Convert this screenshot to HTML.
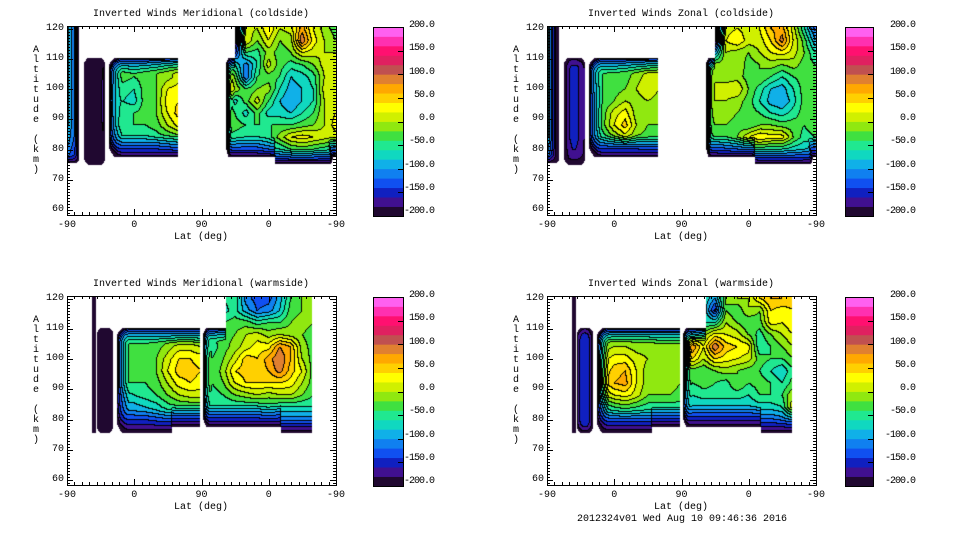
<!DOCTYPE html>
<html><head><meta charset="utf-8"><style>
html,body{margin:0;padding:0;background:#fff;}
#root{position:relative;width:960px;height:540px;overflow:hidden;font-family:"Liberation Mono","DejaVu Sans Mono",monospace;font-size:10px;color:#000;}
.t{position:absolute;white-space:pre;line-height:10px;}
.cb{letter-spacing:-1px;}
canvas{position:absolute;}
svg{position:absolute;left:0;top:0;}
</style></head><body>
<div id="root"></div>
<script>
// ---- data ----
const altRows = [120,116,112,108,104,100,96,92,88,84,80,76];
const latStep = 15; // columns u = 0..360 step 15
const xTickLabels = ["-90","0","90","0","-90"];
const yTickLabels = ["60","70","80","90","100","110","120"];
const cbarLabels = ["200.0","150.0","100.0","50.0","0.0","-50.0","-100.0","-150.0","-200.0"];
const titles = ["Inverted Winds Meridional (coldside)","Inverted Winds Zonal (coldside)","Inverted Winds Meridional (warmside)","Inverted Winds Zonal (warmside)"];
const bandColors = ["#200830","#401090","#1020c0","#1050f0","#1080f0","#10b0e8","#10d8c0","#20e890","#40e040","#90e810","#d0f000","#ffff00","#ffd000","#ffa800","#e08030","#c05050","#e02060","#ff1070","#ff30b0","#ff60f0"];

const merCold = [
[-70,-140,-190,-190,-50,-40,-50,-40,-20,0,10,-60,-60,-60,-200,-200,10,0,40,0,10,70,20,-10,-30],
[-70,-140,-190,-190,-50,-40,-50,-40,-20,0,10,-60,-60,-60,-200,-200,20,-20,20,-20,-10,100,30,0,-20],
[-70,-140,-190,-190,-50,-40,-50,-40,-20,0,10,-60,-60,-60,-200,-150,-40,-50,-10,-30,-20,20,10,0,0],
[-70,-140,-190,-190,-40,-30,-40,-30,-20,0,10,-60,-60,-60,-60,-60,-110,-60,10,-30,-50,-40,-20,10,10],
[-70,-140,-190,-190,-30,-30,-40,-30,-20,-10,10,-60,-60,-60,40,-20,-120,-40,-30,-40,-80,-70,-50,0,20],
[-70,-140,-190,-190,-20,-50,-60,-30,-20,20,30,-60,-60,-60,80,0,-40,-20,-10,-60,-90,-80,-60,10,20],
[-70,-140,-190,-190,-10,-60,-70,-30,-20,30,40,-60,-60,-60,20,-70,-30,10,-40,-80,-100,-80,-60,0,20],
[-70,-140,-190,-190,-20,-50,-40,-30,-20,20,50,-60,-60,-60,0,-40,-70,-30,-70,-70,-80,-60,-40,0,20],
[-70,-140,-190,-190,-30,-40,-40,-40,-30,0,30,-60,-60,-60,-20,-30,-40,-40,-40,-40,-40,-30,-20,0,30],
[-80,-140,-190,-190,-60,-60,-60,-60,-50,-40,-30,-60,-60,-60,-40,-50,-60,-60,-50,-10,20,30,20,10,10],
[-100,-150,-190,-190,-100,-100,-100,-100,-100,-90,-80,-60,-60,-60,-90,-90,-90,-90,-70,-60,-40,-30,-40,-50,-60],
[-120,-160,-190,-190,-140,-140,-140,-140,-140,-140,-140,-100,-100,-100,-140,-140,-140,-140,-120,-100,-100,-100,-100,-100,-100]];
const zonCold = [
[-60,-200,-170,-170,-40,-40,-40,-30,-20,0,10,-60,-60,-60,-200,-200,10,20,10,20,60,70,10,-60,-130],
[-60,-200,-170,-170,-40,-40,-40,-30,-20,0,10,-60,-60,-60,-200,-200,20,40,10,10,40,90,20,-30,-100],
[-60,-200,-160,-160,-40,-40,-40,-30,-20,0,10,-60,-60,-60,-200,-100,0,-10,-20,0,20,30,10,-20,-60],
[-60,-200,-150,-150,-30,-40,-40,-30,-20,-10,0,-60,-60,-60,-80,-10,-10,0,-30,-20,-10,-20,-10,-30,-40],
[-60,-200,-150,-150,-30,-40,-30,-30,-10,10,10,-60,-60,-60,-80,0,-10,-10,-30,-20,-40,-60,-40,-30,-30],
[-60,-200,-150,-150,-40,-40,-30,-20,0,20,0,-60,-60,-60,-80,0,10,20,-20,-50,-80,-90,-60,-30,-20],
[-60,-200,-150,-150,-50,-40,-20,0,-10,0,-10,-60,-60,-60,-70,0,0,-10,-30,-60,-90,-100,-70,-30,-20],
[-60,-200,-150,-150,-50,-30,10,30,-10,-20,-20,-60,-60,-60,-60,-10,-10,-20,-30,-40,-60,-70,-50,-30,-20],
[-60,-200,-150,-150,-50,-30,20,50,0,-20,-20,-60,-60,-60,-50,-20,-20,-30,-40,-20,-20,-30,-30,-40,-20],
[-60,-200,-150,-150,-60,-50,-20,10,-20,-30,-30,-60,-60,-60,-60,-40,-40,-20,20,40,30,30,-20,-50,-40],
[-80,-200,-160,-160,-100,-100,-100,-100,-100,-90,-90,-60,-60,-60,-90,-90,-80,-70,-60,-50,-60,-60,-70,-80,-90],
[-120,-200,-170,-170,-140,-140,-140,-140,-140,-140,-140,-100,-100,-100,-140,-140,-140,-140,-140,-120,-120,-120,-120,-120,-120]];
const merWarm = [
[-200,-200,-200,-180,-60,-60,-60,-60,-60,-60,-60,-60,-60,-60,-60,-40,-110,-130,-130,-90,-40,-20,-10,-60,-60],
[-200,-200,-200,-180,-60,-60,-60,-60,-60,-60,-60,-60,-60,-60,-70,-50,-90,-120,-110,-80,-30,-20,0,-60,-60],
[-200,-200,-200,-180,-60,-60,-60,-60,-60,-60,-60,-60,-60,-60,-40,-30,-30,-50,-40,-40,-20,-10,-20,-60,-60],
[-200,-200,-200,-180,-60,-40,-40,-40,-40,-40,-40,-40,-40,-40,-30,-20,0,10,-10,0,-10,-20,-30,-60,-60],
[-200,-200,-200,-180,-40,-40,-40,-40,-30,-10,10,10,0,-50,-30,-10,10,30,30,80,60,-10,-30,-60,-60],
[-200,-200,-200,-180,-10,-40,-40,-40,-20,10,40,40,30,-40,-20,10,50,40,70,100,60,0,-30,-60,-60],
[-200,-200,-200,-180,-10,-40,-40,-40,-20,20,50,50,40,-40,-10,40,50,50,60,90,50,20,-30,-60,-60],
[-200,-200,-200,-180,-30,-40,-40,-40,-30,0,30,40,30,-40,-20,20,40,40,40,40,30,0,-30,-60,-60],
[-200,-200,-200,-180,-70,-70,-60,-50,-40,-20,0,10,10,-50,-40,-20,-10,0,-10,0,0,-20,-40,-60,-60],
[-200,-200,-200,-180,-90,-90,-90,-80,-70,-50,-40,-40,-40,-60,-60,-60,-60,-60,-50,-60,-60,-60,-60,-60,-60],
[-200,-200,-200,-180,-120,-120,-120,-120,-110,-100,-100,-100,-100,-110,-110,-110,-110,-110,-100,-110,-110,-110,-110,-100,-100],
[-200,-200,-200,-180,-150,-150,-150,-150,-150,-150,-150,-150,-150,-150,-150,-150,-150,-150,-150,-150,-150,-150,-150,-150,-150]];
const zonWarm = [
[-200,-200,-200,-160,-60,-60,-60,-60,-60,-60,-60,-60,-60,-60,-60,-100,-20,0,0,40,60,60,50,-60,-60],
[-200,-200,-200,-160,-60,-60,-60,-60,-60,-60,-60,-60,-60,-60,-60,-150,-20,-40,0,-20,40,30,40,-60,-60],
[-200,-200,-200,-160,-60,-60,-60,-60,-60,-60,-60,-60,-60,-60,-60,-60,0,-20,-40,-30,30,20,40,-60,-60],
[-200,-200,-200,-160,-60,-30,-20,-20,-20,-20,-20,-20,-20,-40,-10,30,20,10,-20,-50,-20,0,20,-60,-60],
[-200,-200,-200,-160,-40,-10,0,0,-10,-10,-20,-20,-20,80,20,100,50,40,30,-60,-40,-20,0,-60,-60],
[-200,-200,-200,-160,-30,10,30,30,10,0,-10,-20,-20,40,0,40,30,20,10,-30,-40,-40,-20,-60,-60],
[-200,-200,-200,-160,-20,20,50,60,20,-10,-10,-10,-20,-30,-40,-20,-10,-20,-30,-40,-60,-80,-40,-60,-60],
[-200,-200,-200,-160,-30,30,60,70,20,-10,-10,-10,-20,-40,-30,-40,-50,-20,-40,-30,-40,-60,-30,-60,-60],
[-200,-200,-200,-160,-50,0,20,30,10,-20,-20,-20,-30,-60,-50,-50,-50,-50,-60,-40,-40,-40,0,-60,-60],
[-200,-200,-200,-160,-80,-60,-40,-30,-40,-50,-50,-50,-50,-80,-80,-80,-80,-80,-80,-70,-70,-60,20,-60,-60],
[-200,-200,-200,-160,-120,-110,-100,-100,-100,-100,-100,-100,-100,-120,-120,-120,-120,-120,-120,-120,-120,-110,-90,-60,-60],
[-200,-200,-200,-160,-150,-150,-150,-150,-150,-150,-150,-150,-150,-150,-150,-150,-150,-150,-150,-150,-150,-150,-150,-150,-150]];

// data-coverage regions: [u0,u1,altLo,altHi,rimTop,rimBottom,rimLeft,rimRight,fixed]
const coldRegions = [
[0,16,75.6,121.5,0,8,0,4,null],
[23,51,74.9,110.3,12,12,9,9,null],
[56,149,77.5,110.3,16,22,14,0,null],
[213,360,77.5,110.3,12,20,6,0,null],
[225,360,77.5,121.5,0,20,0,0,null],
[278,356,75.3,110,0,14,0,4,null]];
const warmRegionsMer = [
[33,38.5,75.5,121.5,0,0,0,0,-200],
[40,62,75.6,110.3,12,12,8,8,-190],
[67,140,75.6,110.3,16,22,12,0,null],
[67,178,77.5,110.3,16,22,12,0,null],
[182,328,77.5,110.3,14,22,8,0,null],
[213,328,77.5,121.5,0,22,0,0,null],
[286,328,75.6,110,0,14,0,0,null]];
const warmRegionsZon = warmRegionsMer.map((r,i)=> i===1 ? [40,62,75.6,110.3,12,12,8,8,-140] : r);

const panels = [
 {ox:0, oy:0, title:titles[0], grid:merCold, regions:coldRegions, name:"meridional-coldside"},
 {ox:480, oy:0, title:titles[1], grid:zonCold, regions:coldRegions, name:"zonal-coldside"},
 {ox:0, oy:270, title:titles[2], grid:merWarm, regions:warmRegionsMer, name:"meridional-warmside"},
 {ox:480, oy:270, title:titles[3], grid:zonWarm, regions:warmRegionsZon, name:"zonal-warmside"}];

// ---- axis functions (panel-local) ----
const FX0=67, FX1=336, FY0=26, FY1=215;
function xOfU(u){ return FX0 + u/360*(FX1-FX0); }
function uOfX(x){ return (x-FX0)/(FX1-FX0)*360; }
function yOfAlt(a){ return 28.7 + (120-a)*3.02; }
function altOfY(y){ return 120 - (y-28.7)/3.02; }

function sampleGrid(grid,u,alt){
  let cf = Math.max(0,Math.min(24,u/latStep));
  let c0 = Math.min(23,Math.floor(cf)), cx = cf-c0;
  let rf = (120-alt)/4; rf = Math.max(0,Math.min(11,rf));
  let r0 = Math.min(10,Math.floor(rf)), ry = rf-r0;
  const a=grid[r0][c0], b=grid[r0][c0+1], c=grid[r0+1][c0], d=grid[r0+1][c0+1];
  return (a*(1-cx)+b*cx)*(1-ry) + (c*(1-cx)+d*cx)*ry;
}

const root = document.getElementById('root');
function txt(s,x,y,align,name,parent,cls){
  const el=document.createElement('div');
  el.className='t'+(cls?' '+cls:'');
  el.textContent=s;
  
  
  if(align==='r'){ el.style.left=(x-80)+'px'; el.style.width='80px'; el.style.textAlign='right'; }
  else if(align==='c'){ el.style.left=(x-150)+'px'; el.style.width='300px'; el.style.textAlign='center'; }
  else el.style.left=x+'px';
  el.style.top=(y-5)+'px';
  (parent||root).appendChild(el);
  return el;
}

panels.forEach((p,pi)=>{
  const g=document.createElement('div');
  g.style.position='absolute'; g.style.left=p.ox+'px'; g.style.top=p.oy+'px'; g.style.width='480px'; g.style.height='270px';
  
  
  root.appendChild(g);

  const W=FX1-FX0+1, H=FY1-FY0+1;
  const cv=document.createElement('canvas');
  cv.width=W; cv.height=H; cv.style.left=FX0+'px'; cv.style.top=FY0+'px';
  
  
  g.appendChild(cv);
  const ctx=cv.getContext('2d');
  const img=ctx.createImageData(W,H);
  const band=new Int16Array(W*H).fill(-1);
  const rr=p.regions.map(r=>({xl:xOfU(r[0]),xr:xOfU(r[1]),yt:yOfAlt(r[3]),yb:yOfAlt(r[2]),rt:r[4],rb:r[5],rl:r[6],rrt:r[7],fixed:r[8]}));
  for(let py=0;py<H;py++){
    for(let px=0;px<W;px++){
      const X=FX0+px+0.5, Y=FY0+py+0.5;
      let best=-1, fx=null;
      for(const r of rr){
        if(X<r.xl||X>r.xr||Y<r.yt||Y>r.yb) continue;
        let tx=1, ty=1;
        if(r.rl) tx=Math.min(tx,(X-r.xl)/r.rl);
        if(r.rrt) tx=Math.min(tx,(r.xr-X)/r.rrt);
        if(r.rt) ty=Math.min(ty,(Y-r.yt)/r.rt);
        if(r.rb) ty=Math.min(ty,(r.yb-Y)/r.rb);
        const t=1-Math.hypot(1-tx,1-ty);
        if(t>best){best=t; fx=r.fixed;}
      }
      if(best<-0.15) continue;
      const tt=Math.max(0,best);
      const v = fx!==null ? fx : sampleGrid(p.grid,uOfX(X),altOfY(Y));
      const val = -200 + (v+200)*Math.sqrt(tt);
      band[py*W+px]=Math.max(0,Math.min(19,Math.floor((val+200)/20)));
    }
  }
  const rgb=bandColors.map(h=>[parseInt(h.substr(1,2),16),parseInt(h.substr(3,2),16),parseInt(h.substr(5,2),16)]);
  for(let py=0;py<H;py++){
    for(let px=0;px<W;px++){
      const b=band[py*W+px]; const k=(py*W+px)*4;
      if(b<0){img.data[k]=255;img.data[k+1]=255;img.data[k+2]=255;img.data[k+3]=255;continue;}
      let line=false;
      if(px+1<W){const b2=band[py*W+px+1]; if(b2>=0&&b2!==b) line=true;}
      if(py+1<H){const b2=band[(py+1)*W+px]; if(b2>=0&&b2!==b) line=true;}
      const c=line?[0,0,0]:rgb[b];
      img.data[k]=c[0];img.data[k+1]=c[1];img.data[k+2]=c[2];img.data[k+3]=255;
    }
  }
  ctx.putImageData(img,0,0);

  const NS='http://www.w3.org/2000/svg';
  const svg=document.createElementNS(NS,'svg');
  svg.setAttribute('width','480'); svg.setAttribute('height','270');
  
  
  g.appendChild(svg);
  let d=`M${FX0+.5} ${FY0+.5}H${FX1+.5}V${FY1+.5}H${FX0+.5}Z`;
  for(let k=0;k<=36;k++){
    const x=Math.round(xOfU(k*10))+.5, L=(k%9===0)?6:3;
    d+=`M${x} ${FY1}v${-L}M${x} ${FY0}v${L}`;
  }
  for(let a=59;a<=121;a++){
    const y=Math.round(yOfAlt(a))+.5; if(y<FY0||y>FY1) continue;
    const L=(a%10===0)?6:3;
    d+=`M${FX0} ${y}h${L}M${FX1} ${y}h${-L}`;
  }
  const path=document.createElementNS(NS,'path');
  path.setAttribute('d',d); path.setAttribute('stroke','#000'); path.setAttribute('fill','none'); path.setAttribute('stroke-width','1');
  
  
  svg.appendChild(path);

  const CB0 = pi%2===0 ? 373 : 365, CB1 = pi%2===0 ? 403 : 393, CBT=27, CBB=216;
  const bh=(CBB-CBT)/20;
  bandColors.forEach((c,i)=>{
    const r=document.createElementNS(NS,'rect');
    const y0=CBB-(i+1)*bh;
    r.setAttribute('x',CB0); r.setAttribute('y',y0.toFixed(2)); r.setAttribute('width',CB1-CB0); r.setAttribute('height',(bh+0.4).toFixed(2)); r.setAttribute('fill',c);
    
    
    svg.appendChild(r);
  });
  let cd=`M${CB0+.5} ${CBT+.5}H${CB1+.5}V${CBB+.5}H${CB0+.5}Z`;
  for(let i=1;i<8;i++){const y=Math.round(CBT+i*(CBB-CBT)/8)+.5; cd+=`M${CB1} ${y}h-5`;}
  const cp=document.createElementNS(NS,'path');
  cp.setAttribute('d',cd); cp.setAttribute('stroke','#000'); cp.setAttribute('fill','none');
  
  
  svg.appendChild(cp);
  const cbRight = pi%2===0 ? 434 : 435;
  cbarLabels.forEach((s,i)=>{ txt(s,cbRight,26+i*(212-26)/8,'r','colorbar-label',g,'cb'); });

  txt(p.title,201,15,'c','plot-title',g);
  yTickLabels.forEach((s,i)=>{ txt(s,64,yOfAlt(60+i*10),'r','y-tick-label',g); });
  xTickLabels.forEach((s,i)=>{ txt(s,xOfU(i*90),226,'c','x-tick-label',g); });
  txt("Lat (deg)",201,238,'c','x-axis-title',g);
  "Altitude (km)".split('').forEach((ch,i)=>{ if(ch!==' ') txt(ch,36,51+i*10,'c','y-axis-title-char',g); });
});
txt("2012324v01 Wed Aug 10 09:46:36 2016",682,520,'c','timestamp-footer',root);
</script>
</body></html>
